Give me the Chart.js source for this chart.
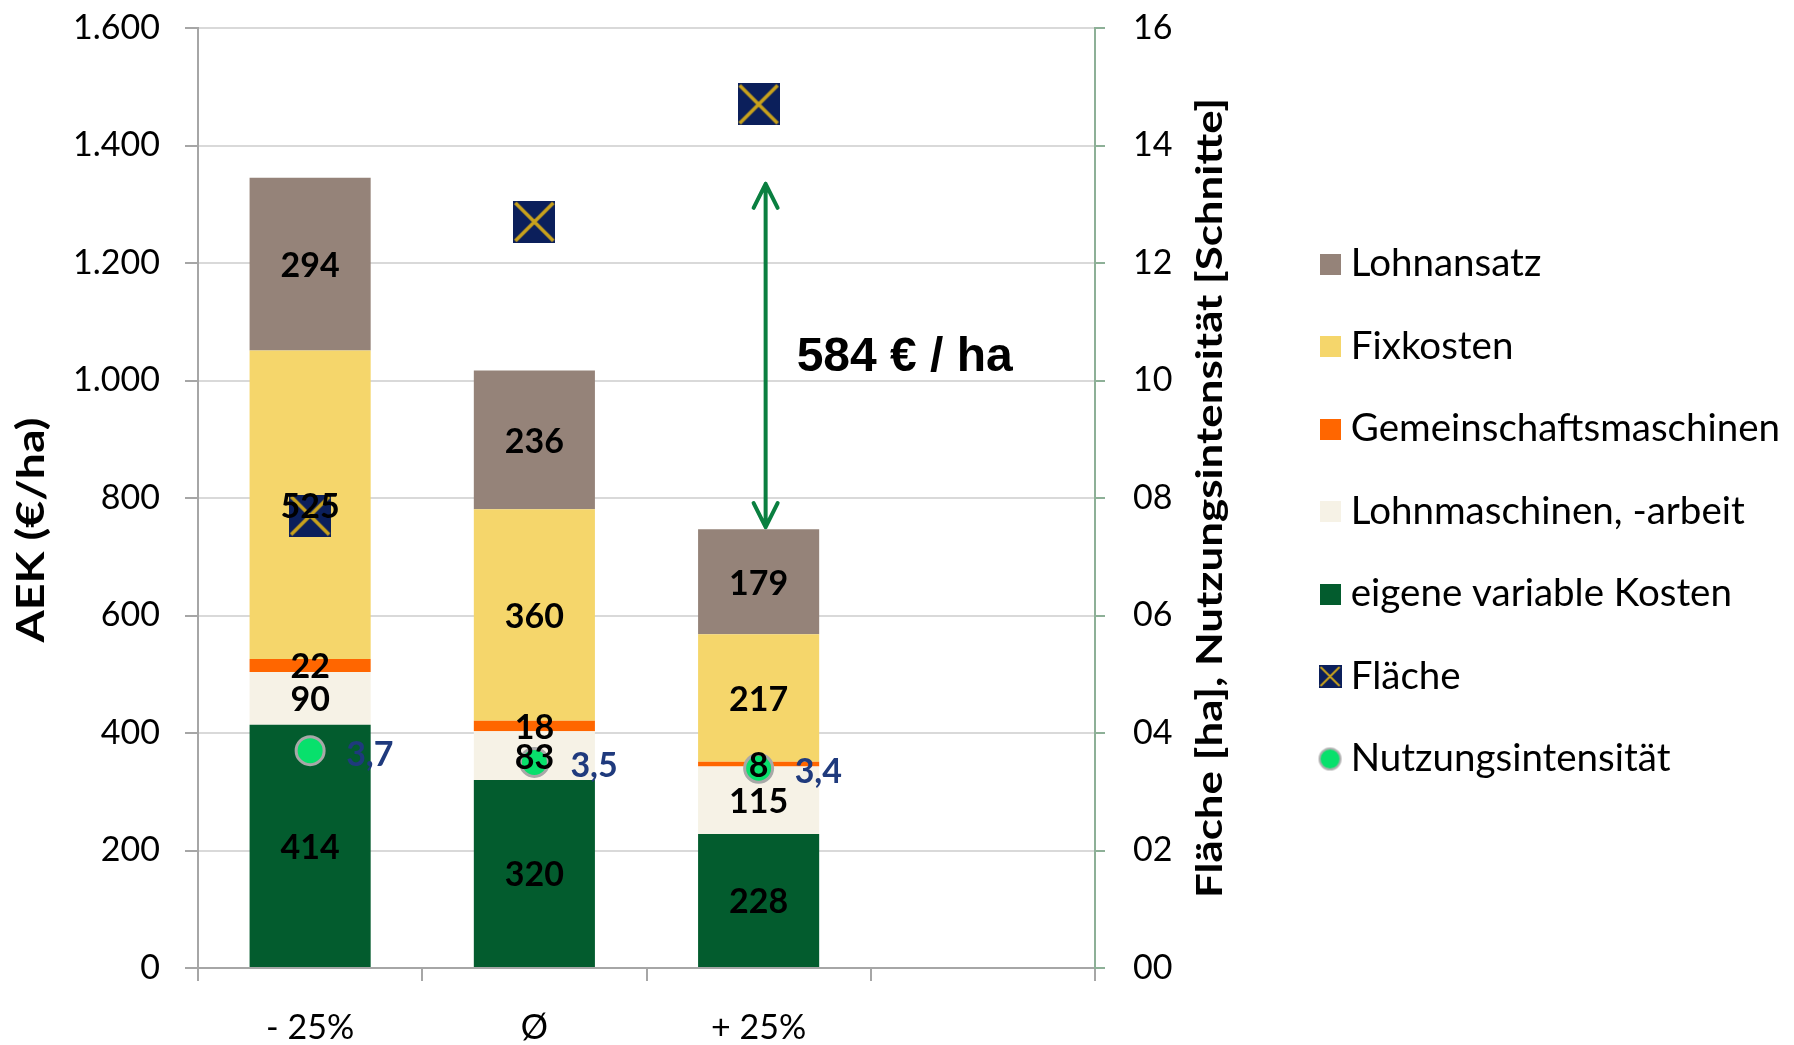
<!DOCTYPE html>
<meta charset="utf-8">
<style>
	body { margin: 0; background: #fff; }
</style>
<body>

	<script src="https://cdn.jsdelivr.net/npm/chart.js@4/dist/chart.umd.min.js"></script>

	<div id="container" style="width: 1794px; height: 1045px;">
		<canvas id="costChart" width="1794" height="1045"></canvas>
	</div>

	<script>
		// categories + values (AEK in €/ha, Fläche in ha, Nutzungsintensität in Schnitte)
		var categories = ["- 25%", "Ø", "+ 25%", ""];
		var eigeneVariable = [414, 320, 228, null];
		var lohnmaschinen = [90, 83, 115, null];
		var gemeinschaft = [22, 18, 8, null];
		var fixkosten = [525, 360, 217, null];
		var lohnansatz = [294, 236, 179, null];
		var flaeche = [7.7, 12.7, 14.7, null];
		var nutzung = [3.7, 3.5, 3.4, null];
		var differenzText = "584 € / ha";

		var FONT = "Lato, 'Open Sans', sans-serif";
		var RIGHT_PAD = 4;
		Chart.defaults.font.family = FONT;
		Chart.defaults.font.size = 34;
		Chart.defaults.color = "#000";

		function makeIcon(size, draw) {
			var c = document.createElement("canvas");
			c.width = size; c.height = size;
			draw(c.getContext("2d"), size);
			return c;
		}
		function squareIcon(color) {
			return makeIcon(21, function(g, s) { g.fillStyle = color; g.fillRect(0, 0, s, s); });
		}
		function crossBox(g, s, lw) {
			g.fillStyle = "#0b1f5b";
			g.fillRect(0, 0, s, s);
			g.strokeStyle = "#c9a21c";
			g.lineWidth = lw;
			g.beginPath();
			g.moveTo(2, 2); g.lineTo(s - 2, s - 2);
			g.moveTo(s - 2, 2); g.lineTo(2, s - 2);
			g.stroke();
		}
		var flaecheMarker = makeIcon(42, function(g, s) { crossBox(g, s, 3.5); });
		var flaecheIcon = makeIcon(23, function(g, s) { crossBox(g, s, 2); });
		var nutzungIcon = makeIcon(25, function(g, s) {
			g.fillStyle = "#08e06c";
			g.strokeStyle = "#b0b0b0";
			g.lineWidth = 2;
			g.beginPath(); g.arc(s / 2, s / 2, s / 2 - 2, 0, Math.PI * 2); g.fill(); g.stroke();
		});

		var colors = {
			eigene: "#035c2e",
			lohnm: "#f6f2e6",
			gemein: "#ff6600",
			fix: "#f5d66b",
			lohnansatz: "#958379"
		};

		function barSet(label, data, color) {
			return {
				label: label, data: data, backgroundColor: color,
				yAxisID: "y", categoryPercentage: 1, barPercentage: 0.54
			};
		}

		var legendIcons = [
			squareIcon(colors.eigene), squareIcon(colors.lohnm), squareIcon(colors.gemein),
			squareIcon(colors.fix), squareIcon(colors.lohnansatz), flaecheIcon, nutzungIcon
		];

		// draws rotated text (bottom to top) stretched to a given length
		function verticalText(ctx, text, x, y, font, length) {
			ctx.save();
			ctx.font = font;
			ctx.fillStyle = "#000";
			ctx.textAlign = "center";
			ctx.textBaseline = "middle";
			ctx.translate(x, y);
			ctx.rotate(-Math.PI / 2);
			ctx.scale(length / ctx.measureText(text).width, 1);
			ctx.fillText(text, 0, 0);
			ctx.restore();
		}

		var extras = {
			id: "extras",
			afterDatasetsDraw: function(chart) {
				var ctx = chart.ctx;
				var y = chart.scales.y;
				var area = chart.chartArea;

				// values inside the bar segments
				ctx.save();
				ctx.font = "bold 34px " + FONT;
				ctx.fillStyle = "#000";
				ctx.textAlign = "center";
				ctx.textBaseline = "middle";
				for (var d = 0; d < 5; d++) {
					var ds = chart.data.datasets[d];
					chart.getDatasetMeta(d).data.forEach(function(el, i) {
						if (ds.data[i] == null) return;
						ctx.fillText(String(ds.data[i]), el.x, (el.y + el.base) / 2 + 2);
					});
				}
				ctx.restore();

				// Nutzungsintensität values
				var meta = chart.getDatasetMeta(6);
				ctx.save();
				ctx.font = "bold 34px " + FONT;
				ctx.fillStyle = "#1f3a7d";
				ctx.textAlign = "left";
				ctx.textBaseline = "middle";
				meta.data.forEach(function(pt, i) {
					if (nutzung[i] == null) return;
					ctx.fillText(String(nutzung[i]).replace(".", ","), pt.x + 36, pt.y + 4);
				});
				ctx.restore();

				// difference arrow between first and third bar totals
				function total(i) {
					return eigeneVariable[i] + lohnmaschinen[i] + gemeinschaft[i] + fixkosten[i] + lohnansatz[i];
				}
				var bar3 = chart.getDatasetMeta(0).data[2];
				var ax = bar3.x + 7;
				var yTop = y.getPixelForValue(total(0)) + 6;
				var yBot = y.getPixelForValue(total(2)) - 2;
				ctx.save();
				ctx.strokeStyle = "#0a7f40";
				ctx.lineWidth = 4;
				ctx.lineCap = "round";
				ctx.lineJoin = "round";
				ctx.beginPath();
				ctx.moveTo(ax, yTop); ctx.lineTo(ax, yBot);
				ctx.moveTo(ax - 12, yTop + 24); ctx.lineTo(ax, yTop); ctx.lineTo(ax + 12, yTop + 24);
				ctx.moveTo(ax - 12, yBot - 24); ctx.lineTo(ax, yBot); ctx.lineTo(ax + 12, yBot - 24);
				ctx.stroke();
				ctx.font = "bold 48px 'Liberation Sans', Arial, sans-serif";
				ctx.fillStyle = "#000";
				ctx.textAlign = "left";
				ctx.textBaseline = "middle";
				ctx.fillText(differenzText, ax + 31, (yTop + yBot) / 2 + 2);
				ctx.restore();

				// axis titles (both read bottom to top)
				var midY = (area.top + area.bottom) / 2;
				verticalText(ctx, "AEK (€/ha)", 32, midY + 32, "bold 38px " + FONT, 225);
				verticalText(ctx, "Fläche [ha], Nutzungsintensität [Schnitte]",
					chart.scales.y1.left + 115, midY, "bold 36px " + FONT, 800);
			}
		};

		var myChart = new Chart(document.getElementById("costChart"), {
			type: "bar",
			data: {
				labels: categories,
				datasets: [
					barSet("eigene variable Kosten", eigeneVariable, colors.eigene),
					barSet("Lohnmaschinen, -arbeit", lohnmaschinen, colors.lohnm),
					barSet("Gemeinschaftsmaschinen", gemeinschaft, colors.gemein),
					barSet("Fixkosten", fixkosten, colors.fix),
					barSet("Lohnansatz", lohnansatz, colors.lohnansatz),
					{
						type: "line", label: "Fläche", data: flaeche, yAxisID: "y1",
						showLine: false, pointStyle: flaecheMarker, pointRadius: 21, order: -1
					},
					{
						type: "line", label: "Nutzungsintensität", data: nutzung, yAxisID: "y1",
						showLine: false, pointStyle: "circle", pointRadius: 14,
						pointBackgroundColor: "#08e06c", pointBorderColor: "#a8a8a8", pointBorderWidth: 3,
						order: -2
					}
				]
			},
			options: {
				responsive: false,
				animation: false,
				layout: { padding: { top: -22, right: RIGHT_PAD, bottom: 0, left: 0 } },
				plugins: {
					tooltip: { enabled: false },
					legend: {
						position: "right",
						maxWidth: 700,
						labels: {
							usePointStyle: true,
							boxWidth: 3,
							boxHeight: 21,
							padding: 44,
							font: { size: 38.5 },
							color: "#000",
							generateLabels: function(chart) {
								return [4, 3, 2, 1, 0, 5, 6].map(function(i) {
									return {
										text: chart.data.datasets[i].label,
										pointStyle: legendIcons[i],
										fillStyle: "transparent",
										strokeStyle: "transparent",
										lineWidth: 0,
										hidden: false,
										datasetIndex: i,
										fontColor: "#000"
									};
								});
							}
						}
					}
				},
				scales: {
					x: {
						stacked: true,
						grid: { offset: true, drawOnChartArea: false, tickLength: 13, color: "#a6a6a6", lineWidth: 2 },
						border: { color: "#a6a6a6", width: 2 },
						ticks: { padding: 27, font: { size: 34 }, color: "#000" },
						afterFit: function(s) { s.height = 77; }
					},
					y: {
						stacked: true,
						min: 0, max: 1600,
						ticks: {
							stepSize: 200, padding: 25, color: "#000",
							callback: function(v) { return v >= 1000 ? Math.floor(v / 1000) + "." + String(v % 1000).padStart(3, "0") : String(v); }
						},
						grid: { color: "#d9d9d9", lineWidth: 2, tickLength: 13, tickColor: "#a6a6a6" },
						border: { color: "#a6a6a6", width: 2 },
						afterFit: function(s) { s.width = 198; s.paddingTop = 28; s.paddingBottom = 20; }
					},
					y1: {
						position: "right",
						min: 0, max: 16,
						ticks: {
							stepSize: 2, padding: 28, color: "#000",
							callback: function(v) { return String(v).padStart(2, "0"); }
						},
						grid: { drawOnChartArea: false, tickLength: 10, color: "#8db097", lineWidth: 2 },
						border: { color: "#8db097", width: 2 },
						afterFit: function(s) {
							s.width = s.chart.width - RIGHT_PAD - s.chart.legend.width - 1095;
							s.paddingTop = 28; s.paddingBottom = 20;
						}
					}
				}
			},
			plugins: [extras]
		});
	</script>
</body>
